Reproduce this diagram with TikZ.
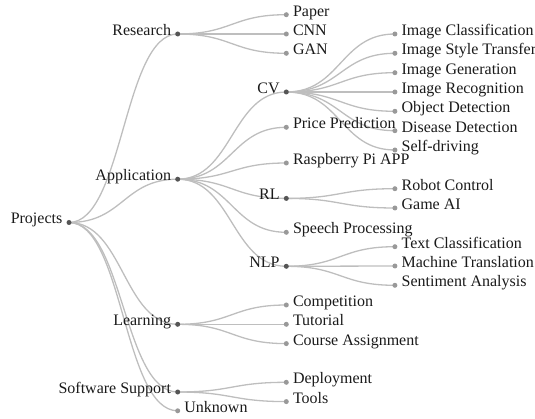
\documentclass[tikz,border=0pt]{standalone}
\usepackage{fontspec}
\setmainfont{Liberation Serif}
\usetikzlibrary{calc,backgrounds}
\definecolor{linkc}{HTML}{BEBEBE}
\definecolor{inner}{HTML}{555555}
\definecolor{leafc}{HTML}{999999}
\definecolor{txt}{HTML}{1A1A1A}
\tikzset{
  inode/.style={circle,fill=inner,inner sep=0pt,minimum size=5pt},
  lnode/.style={circle,fill=leafc,inner sep=0pt,minimum size=5pt},
  llab/.style={anchor=base east,inner sep=0pt,text=txt,font=\fontsize{16}{19}\selectfont},
  rlab/.style={anchor=base west,inner sep=0pt,text=txt,font=\fontsize{16}{19}\selectfont},
  link/.style={draw=linkc,line width=1.3pt}
}
\begin{document}
\begin{tikzpicture}[x=1pt,y=-1pt]
\useasboundingbox (0,0) rectangle (535,419);
% internal nodes
\node[inode] (root) at (69,222.5) {};
\node[inode] (research) at (177.7,34) {};
\node[inode] (app) at (177.7,179.2) {};
\node[inode] (learn) at (177.7,324.3) {};
\node[inode] (soft) at (177.7,392) {};
\node[lnode] (unknown) at (177.7,410.8) {};
\node[lnode] (paper) at (286.3,14.7) {};
\node[lnode] (cnn) at (286.3,34) {};
\node[lnode] (gan) at (286.3,53.3) {};
\node[inode] (cv) at (286.3,92) {};
\node[lnode] (price) at (286.3,127.3) {};
\node[lnode] (rasp) at (286.3,163) {};
\node[inode] (rl) at (286.3,198.4) {};
\node[lnode] (speech) at (286.3,232.3) {};
\node[inode] (nlp) at (286.3,266.3) {};
\node[lnode] (comp) at (286.3,305) {};
\node[lnode] (tut) at (286.3,324.3) {};
\node[lnode] (course) at (286.3,343.6) {};
\node[lnode] (deploy) at (286.3,382.3) {};
\node[lnode] (tools) at (286.3,401.6) {};
\node[lnode] (ic) at (394.9,34) {};
\node[lnode] (ist) at (394.9,53.3) {};
\node[lnode] (ig) at (394.9,72.7) {};
\node[lnode] (ir) at (394.9,92) {};
\node[lnode] (od) at (394.9,111.3) {};
\node[lnode] (dd) at (394.9,130.7) {};
\node[lnode] (sd) at (394.9,150) {};
\node[lnode] (robot) at (394.9,188.7) {};
\node[lnode] (game) at (394.9,208) {};
\node[lnode] (tc) at (394.9,246.7) {};
\node[lnode] (mt) at (394.9,266) {};
\node[lnode] (sa) at (394.9,285.3) {};
% labels
\node[llab] (tRoot) at ($(root)+(-6.5,1.5)$) {Projects};
\node[llab] (tResearch) at ($(research)+(-6.5,1.5)$) {Research};
\node[llab] (tApp) at ($(app)+(-6.5,1.5)$) {Application};
\node[llab] (tLearn) at ($(learn)+(-6.5,1.5)$) {Learning};
\node[llab] (tSoft) at ($(soft)+(-6.5,1.5)$) {Software Support};
\node[rlab] (tUnknown) at ($(unknown)+(6.5,1.5)$) {Unknown};
\node[rlab] (tPaper) at ($(paper)+(6.5,1.5)$) {Paper};
\node[rlab] (tCnn) at ($(cnn)+(6.5,1.5)$) {CNN};
\node[rlab] (tGan) at ($(gan)+(6.5,1.5)$) {GAN};
\node[llab] (tCv) at ($(cv)+(-6.5,1.5)$) {CV};
\node[rlab] (tPrice) at ($(price)+(6.5,1.5)$) {Price Prediction};
\node[rlab] (tRasp) at ($(rasp)+(6.5,1.5)$) {Raspberry Pi APP};
\node[llab] (tRl) at ($(rl)+(-6.5,1.5)$) {RL};
\node[rlab] (tSpeech) at ($(speech)+(6.5,1.5)$) {Speech Processing};
\node[llab] (tNlp) at ($(nlp)+(-6.5,1.5)$) {NLP};
\node[rlab] (tComp) at ($(comp)+(6.5,1.5)$) {Competition};
\node[rlab] (tTut) at ($(tut)+(6.5,1.5)$) {Tutorial};
\node[rlab] (tCourse) at ($(course)+(6.5,1.5)$) {Course Assignment};
\node[rlab] (tDeploy) at ($(deploy)+(6.5,1.5)$) {Deployment};
\node[rlab] (tTools) at ($(tools)+(6.5,1.5)$) {Tools};
\node[rlab] (tIc) at ($(ic)+(6.5,1.5)$) {Image Classification};
\node[rlab] (tIst) at ($(ist)+(6.5,1.5)$) {Image Style Transfer};
\node[rlab] (tIg) at ($(ig)+(6.5,1.5)$) {Image Generation};
\node[rlab] (tIr) at ($(ir)+(6.5,1.5)$) {Image Recognition};
\node[rlab] (tOd) at ($(od)+(6.5,1.5)$) {Object Detection};
\node[rlab] (tDd) at ($(dd)+(6.5,1.5)$) {Disease Detection};
\node[rlab] (tSd) at ($(sd)+(6.5,1.5)$) {Self-driving};
\node[rlab] (tRobot) at ($(robot)+(6.5,1.5)$) {Robot Control};
\node[rlab] (tGame) at ($(game)+(6.5,1.5)$) {Game AI};
\node[rlab] (tTc) at ($(tc)+(6.5,1.5)$) {Text Classification};
\node[rlab] (tMt) at ($(mt)+(6.5,1.5)$) {Machine Translation};
\node[rlab] (tSa) at ($(sa)+(6.5,1.5)$) {Sentiment Analysis};
% links
\begin{scope}[on background layer]
\foreach \p/\c in {root/research,root/app,root/learn,root/soft,root/unknown,
  research/paper,research/cnn,research/gan,
  app/cv,app/price,app/rasp,app/rl,app/speech,app/nlp,
  cv/ic,cv/ist,cv/ig,cv/ir,cv/od,cv/dd,cv/sd,
  rl/robot,rl/game,nlp/tc,nlp/mt,nlp/sa,
  learn/comp,learn/tut,learn/course,soft/deploy,soft/tools}
  \draw[link] (\p.center) .. controls ($(\p.center)+(54.3,0)$) and ($(\c.center)+(-54.3,0)$) .. (\c.center);
\end{scope}
\end{tikzpicture}
\end{document}
